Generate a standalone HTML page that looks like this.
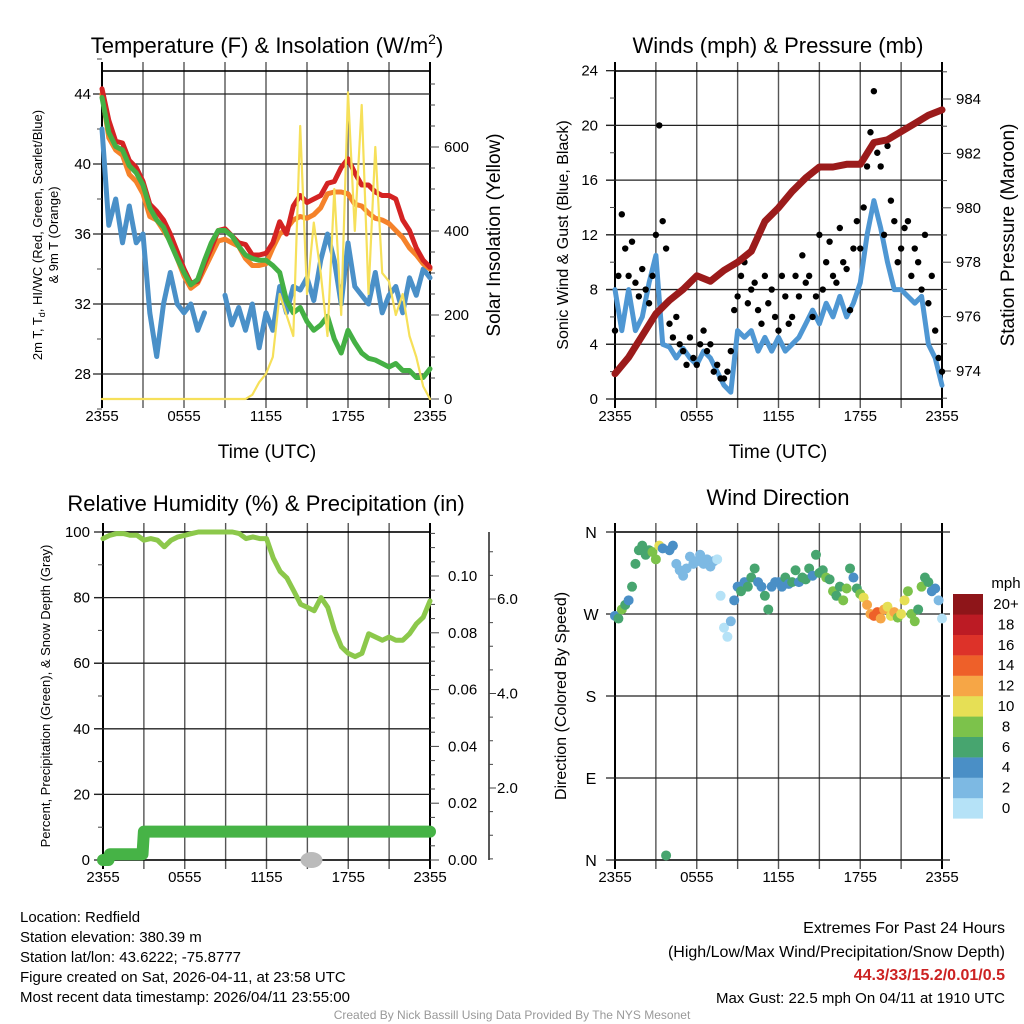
<!DOCTYPE html>
<html><head><meta charset="utf-8"><style>
html,body{margin:0;padding:0;background:#fff;}
svg{display:block;font-family:"Liberation Sans",sans-serif;}
</style></head><body>
<svg id="chart" width="1024" height="1024" viewBox="0 0 1024 1024">
<rect width="1024" height="1024" fill="#fff"/>
<g id="p1"></g>
<g id="p2"></g>
<g id="p3"></g>
<g id="p4"></g>

<text x="267" y="53" font-size="22" text-anchor="middle">Temperature (F) &amp; Insolation (W/m<tspan dy="-9" font-size="14">2</tspan><tspan dy="9">)</tspan></text>
<text x="778" y="53" font-size="22" text-anchor="middle">Winds (mph) &amp; Pressure (mb)</text>
<text x="266" y="511" font-size="22" text-anchor="middle">Relative Humidity (%) &amp; Precipitation (in)</text>
<text x="778" y="505" font-size="22" text-anchor="middle">Wind Direction</text>

<text x="267" y="458" font-size="19" text-anchor="middle">Time (UTC)</text>
<text x="778" y="458" font-size="19" text-anchor="middle">Time (UTC)</text>

<text transform="translate(42,235) rotate(-90)" font-size="13" text-anchor="middle">2m T, T<tspan font-size="9" dy="3">d</tspan><tspan dy="-3">, HI/WC (Red, Green, Scarlet/Blue)</tspan></text>
<text transform="translate(58,235) rotate(-90)" font-size="13" text-anchor="middle">&amp; 9m T (Orange)</text>
<text transform="translate(500,235) rotate(-90)" font-size="19" text-anchor="middle">Solar Insolation (Yellow)</text>
<text transform="translate(568,235) rotate(-90)" font-size="16" text-anchor="middle">Sonic Wind &amp; Gust (Blue, Black)</text>
<text transform="translate(1014,235) rotate(-90)" font-size="19" text-anchor="middle">Station Pressure (Maroon)</text>
<text transform="translate(50,696) rotate(-90)" font-size="13" text-anchor="middle">Percent, Precipitation (Green), &amp; Snow Depth (Gray)</text>
<text transform="translate(566,696) rotate(-90)" font-size="16" text-anchor="middle">Direction (Colored By Speed)</text>

<g font-size="15">
<text x="20" y="922">Location: Redfield</text>
<text x="20" y="942">Station elevation: 380.39 m</text>
<text x="20" y="962">Station lat/lon: 43.6222; -75.8777</text>
<text x="20" y="982">Figure created on Sat, 2026-04-11, at 23:58 UTC</text>
<text x="20" y="1002">Most recent data timestamp: 2026/04/11 23:55:00</text>
</g>
<g font-size="16" text-anchor="end">
<text x="1005" y="933">Extremes For Past 24 Hours</text>
<text x="1005" y="957">(High/Low/Max Wind/Precipitation/Snow Depth)</text>
<text x="1005" y="980" fill="#cc2222" font-weight="bold">44.3/33/15.2/0.01/0.5</text>
<text x="1005" y="1003" font-size="15">Max Gust: 22.5 mph On 04/11 at 1910 UTC</text>
</g>
<text x="512" y="1019" font-size="12" fill="#999" text-anchor="middle">Created By Nick Bassill Using Data Provided By The NYS Mesonet</text>
</svg>
<script>
// ---- data (half-hour steps from 2355 UTC) ----
const timeLabels = ["2355","0555","1155","1755","2355"];
const tempRed = [44.3,42.5,41.3,41.2,40.2,39.8,39.0,37.7,37.3,36.8,36.0,35.0,34.0,33.2,33.3,34.3,35.2,36.2,36.3,35.9,35.5,35.4,34.8,34.8,34.9,35.5,36.7,36.0,37.6,38.2,37.8,38.0,38.2,38.9,39.0,39.8,40.3,39.5,38.8,38.8,38.4,38.2,38.2,38.0,36.8,36.2,35.2,34.5,34.1];
const tempOrange = [44.0,41.5,40.8,40.5,39.4,39.0,38.3,37.0,36.8,36.2,35.6,34.6,33.6,32.9,33.2,34.0,34.8,35.6,35.7,35.5,35.3,34.6,34.2,34.2,34.3,35.2,36.0,36.3,36.8,37.0,36.9,37.1,37.5,38.3,38.4,38.4,38.3,37.7,37.6,37.2,36.9,36.8,36.6,36.2,35.8,35.2,34.8,34.3,34.0];
const tempGreen = [43.8,41.8,41.0,40.8,39.9,39.5,38.8,37.5,36.8,36.4,35.5,34.6,33.8,33.1,33.4,34.5,35.5,36.2,36.2,35.9,35.3,34.8,34.6,34.5,34.5,34.2,33.8,32.2,31.5,31.8,31.0,30.5,30.8,31.3,30.0,29.2,30.5,29.8,29.2,28.9,28.8,28.6,28.4,28.6,28.2,28.2,27.8,27.8,28.3];
const dewBlue = [42.0,36.5,38.0,35.5,37.6,35.5,36.0,31.5,29.0,32.0,33.8,32.0,31.5,32.0,30.5,31.5,null,null,32.5,30.8,31.8,30.5,32.0,29.5,31.5,30.5,33.0,31.5,33.0,32.8,33.5,32.2,34.5,36.0,34.5,32.0,35.5,33.0,32.5,32.0,33.8,31.5,32.5,33.0,31.5,33.5,32.5,34.0,33.5];
const solar = [0,0,0,0,0,0,0,0,0,0,0,0,0,0,0,0,0,0,0,0,0,0,10,40,60,100,250,200,150,650,250,420,300,150,500,200,730,400,700,250,600,300,280,200,250,150,100,30,0];
const sonicWind = [8,5,8,5,6,8.5,10.5,4,3.8,3,3.7,3,2.5,3.5,3,2,1,0.5,5,4.5,5,3.5,4.5,3.5,4.5,3.5,4,4.5,5.5,6.5,5.5,7,6,7.5,6,7,8.5,12,14.5,12.5,10,8,8,7.5,7,7.5,4,3,1];
const pressure = [973.9,974.5,975.3,976.1,976.6,977.0,977.5,977.3,977.7,978.0,978.4,979.5,980.0,980.6,981.1,981.5,981.5,981.6,981.6,982.4,982.5,982.8,983.1,983.4,983.6];
// quarter-hour steps
const gusts = [5,9,13.5,11,9,11.5,8.5,7.5,9.5,8,7,9,12,20,13,11,5.5,4.5,6,4,3.5,2.5,4.5,3,2.5,4,5,3.5,4,2,2.5,1.5,1.5,2,3.5,6.5,7.5,9,10,7,8,8.5,6.5,5.5,9,7,8,6,5,9,7.5,5.5,6,9,7.5,10.5,8.5,9,6,7.5,12,8,10,11.5,9,8.5,12.5,10,9.5,6.5,11,13,11,14,17,19.5,22.5,18,17,12,18.5,14.5,13,10,11,12.5,13,9,11,10,8,12,7,9,5,3,2];
const windDir = [268,265,275,280,285,300,325,340,345,335,340,338,330,345,342,5,340,345,325,318,312,320,333,325,328,335,325,330,322,328,330,290,255,245,262,285,300,295,305,300,310,320,305,300,290,275,300,305,305,300,310,303,305,318,305,310,308,320,312,335,315,318,310,308,295,290,300,285,298,320,310,298,292,288,280,270,268,272,265,275,278,268,272,266,270,285,295,270,262,275,300,310,305,295,298,285,265];
const windSpeed = [5,7,8,6,5,7,6,7,6.5,7,7.5,8,9,10.5,5,6,4,4.5,3,3.5,3,2.5,3.5,3,3,3.5,3,2.5,3,2.5,1.5,1.5,1,0.5,3,5,5,6,4.5,6,6.5,7,4.5,5.5,6.5,6,4.5,5,5,4.5,6,5,6,7,5.5,6.5,6.5,7,5,6.5,7,6.5,8,7,8.5,7,6.5,8,9,6,5,7,9,10,12.5,13,14.5,15,13.5,12.5,11,10,12,9,10.5,10,8,9,8,7.5,8.5,6,7,4.5,4,2,1.5];
const humidity = [98,99,99.5,99.5,99,99,97.5,98,97.5,95.5,97.5,98.5,99,99.5,100,100,100,100,100,100,99.5,98,98.5,98,98,92,88,86,82,78,77,76,80,77,70,65,63,62,63,69,68,67,68,67,67,69,72,74,79];
const precip = [0,0.002,0.002,0.002,0.002,0.002,0.01,0.01,0.01,0.01,0.01,0.01,0.01,0.01,0.01,0.01,0.01,0.01,0.01,0.01,0.01,0.01,0.01,0.01,0.01,0.01,0.01,0.01,0.01,0.01,0.01,0.01,0.01,0.01,0.01,0.01,0.01,0.01,0.01,0.01,0.01,0.01,0.01,0.01,0.01,0.01,0.01,0.01,0.01];
const snowTimes = [15.3];
const snowDepth = [0];
const speedBins = ["0","2","4","6","8","10","12","14","16","18","20+"];
const speedColors = ["#b5e2f7","#7db9e3","#4a8fc6","#47a56f","#7cc24b","#e6df55","#f6a646","#ee6029","#dd3229","#bc1b24","#8e1519"];

const NS="http://www.w3.org/2000/svg";
function mk(parent,tag,attrs){const e=document.createElementNS(NS,tag);for(const k in attrs)e.setAttribute(k,attrs[k]);parent.appendChild(e);return e;}
function line(g,x1,y1,x2,y2,stroke,w){return mk(g,'line',{x1,y1,x2,y2,stroke,'stroke-width':w});}
function txt(g,x,y,s,anchor,size){const t=mk(g,'text',{x,y,'text-anchor':anchor||'middle','font-size':size||14});t.textContent=s;return t;}

function frame(g,L,R,T,B,xs){
  for(let h=0;h<=24;h+=3){const x=xs(h);const l=line(g,x,T-9,x,B+9,(h%24===0)?'#000':'#555',(h%24===0)?2:1.4);
    
    }
  mk(g,'rect',{x:L,y:T,width:R-L,height:B-T,fill:'none',stroke:'#000','stroke-width':1.6});
  timeLabels.forEach((s,i)=>{const t=txt(g,xs(i*6),B+22,s,'middle',15);
    
    });
}
function hgrid(g,L,R,y){const l=line(g,L-9,y,R,y,'#222',1.3);
  
  }
function polyline(g,pts,color,w,name){
  let segs=[],cur=[];pts.forEach(p=>{if(p[1]===null||isNaN(p[1])){if(cur.length)segs.push(cur);cur=[];}else cur.push(p);});if(cur.length)segs.push(cur);
  segs.forEach(s=>{const pl=mk(g,'polyline',{points:s.map(p=>p[0].toFixed(1)+','+p[1].toFixed(1)).join(' '),fill:'none',stroke:color,'stroke-width':w,'stroke-linejoin':'round','stroke-linecap':'round'});
    
    });
}

// ---------- Panel 1 ----------
(function(){
  const g=document.getElementById('p1');const L=102,R=430,T=71,B=399;
  const X=t=>L+t/24*(R-L), Y=v=>94+(44-v)*17.5, YS=s=>399-s*0.42;
  frame(g,L,R,T,B,X);
  for(let v=28;v<=44;v+=4){hgrid(g,L,R,Y(v));const t=txt(g,L-11,Y(v)+5,String(v),'end',15);
    
    }
  for(let v=26;v<=46;v+=2){if(v%4)line(g,L-5,Y(v),L,Y(v),'#444',1);}
  for(let s=0;s<=750;s+=50){const y=YS(s);line(g,R,y,R+(s%200===0?9:5),y,'#444',1);
    if(s%200===0){const t=txt(g,R+14,y+5,String(s),'start',15);
      
      }}
  const h=i=>X(i*0.5);
  polyline(g,dewBlue.map((v,i)=>[h(i),v===null?null:Y(v)]),'#4a90c8',5,'dewpoint-line');
  polyline(g,tempOrange.map((v,i)=>[h(i),Y(v)]),'#f5822a',5,'temp-9m-line');
  polyline(g,tempRed.map((v,i)=>[h(i),Y(v)]),'#d42323',5,'temp-2m-line');
  polyline(g,tempGreen.map((v,i)=>[h(i),Y(v)]),'#44b044',5,'heat-index-windchill-line');
  polyline(g,solar.map((v,i)=>[h(i),YS(v)]),'#f6e05a',2.2,'solar-insolation-line');
})();

// ---------- Panel 2 ----------
(function(){
  const g=document.getElementById('p2');const L=615,R=942,T=71,B=399;
  const X=t=>L+t/24*(R-L), Y=w=>399-w*13.68, YP=p=>371-(p-974)*27.2;
  frame(g,L,R,T,B,X);
  for(let w=0;w<=24;w+=4){if(w>0&&w<24)hgrid(g,L,R,Y(w));line(g,L-9,Y(w),L,Y(w),'#222',1.3);
    const t=txt(g,L-17,Y(w)+5,String(w),'end',15);
    
    }
  for(let w=2;w<24;w+=4)line(g,L-5,Y(w),L,Y(w),'#444',1);
  for(let p=973;p<=985;p++){const y=YP(p);if(y<T-1||y>B+1)continue;line(g,R,y,R+(p%2===0?9:5),y,'#444',1);
    if(p%2===0){const t=txt(g,R+14,y+5,String(p),'start',15);
      
      }}
  polyline(g,sonicWind.map((v,i)=>[X(i*0.5),Y(v)]),'#4f97d3',5,'sonic-wind-line');
  gusts.forEach((v,i)=>{const c=mk(g,'circle',{cx:X(i*0.25),cy:Y(v),r:3.2,fill:'#000'});
    
    });
  polyline(g,pressure.map((v,i)=>[X(i),YP(v)]),'#9b1b1b',7,'pressure-line');
})();

// ---------- Panel 3 ----------
(function(){
  const g=document.getElementById('p3');const L=103,R=430,T=532,B=860;
  const X=t=>L+t/24*(R-L), Y=r=>860-r*3.28, YP=p=>860-p*2840, YSn=s=>882.5-s*47.25;
  frame(g,L,R,T,B,X);
  for(let r=0;r<=100;r+=20){if(r>0&&r<100)hgrid(g,L,R,Y(r));line(g,L-9,Y(r),L,Y(r),'#222',1.3);
    const t=txt(g,L-13,Y(r)+5,String(r),'end',15);
    
    }
  for(let r=10;r<100;r+=20)line(g,L-5,Y(r),L,Y(r),'#444',1);
  for(let k=0;k<=23;k++){const p=k*0.005;const y=YP(p);if(y<T)continue;line(g,R,y,R+(k%4===0?9:5),y,'#444',1);
    if(k%4===0){const t=txt(g,R+18,y+5,p.toFixed(2),'start',15);
      
      }}
  const ax=line(g,489,T,489,B,'#222',1.5);
  
  
  for(let k=1;k<=14;k++){const s=k*0.5;const y=YSn(s);if(y<T)continue;line(g,489,y,489+(k%4===0?7:4),y,'#444',1);
    if(k%4===0){const t=txt(g,497,y+5,s.toFixed(1),'start',15);
      
      }}
  polyline(g,humidity.map((v,i)=>[X(i*0.5),Y(v)]),'#8cc84b',5,'humidity-line');
  const pts=[];precip.forEach((v,i)=>{if(i>0)pts.push([X(i*0.5-0.1),YP(precip[i-1])]);pts.push([X(i*0.5),YP(v)]);});
  polyline(g,pts,'#46b346',12,'precipitation-line');
  snowTimes.forEach((t,i)=>{const e=mk(g,'ellipse',{cx:X(t),cy:YP(snowDepth[i]),rx:11,ry:8,fill:'#bbb'});
    
    });
})();

// ---------- Panel 4 ----------
(function(){
  const g=document.getElementById('p4');const L=615,R=942,T=532,B=860;
  const X=t=>L+t/24*(R-L), Y=d=>T+(360-d)/360*(B-T);
  frame(g,L,R,T,B,X);
  ["N","W","S","E","N"].forEach((s,i)=>{const y=T+i*(B-T)/4;line(g,L-9,y,R+8,y,'#222',1.3);
    const t=txt(g,L-24,y+6,s,'middle',16);
    
    });
  const col=s=>speedColors[Math.min(10,Math.max(0,Math.floor(s/2)))];
  windDir.forEach((d,i)=>{const c=mk(g,'circle',{cx:X(i*0.25),cy:Y(d),r:5,fill:col(windSpeed[i])});
    
    });
  const lg=mk(g,'g',{});
  
  
  txt(lg,1006,588,'mph','middle',15);
  speedColors.forEach((c,i)=>{const y=594+(10-i)*20.4;const r=mk(lg,'rect',{x:953,y:y,width:30,height:20.6,fill:c});
    
    
    const t=txt(lg,1006,y+15,speedBins[i],'middle',15);
    
    });
})();
</script>
</body></html>
